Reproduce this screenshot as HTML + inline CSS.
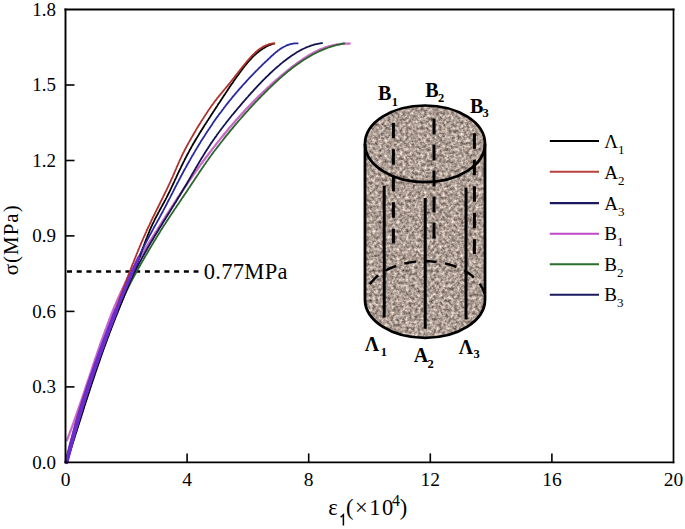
<!DOCTYPE html>
<html><head><meta charset="utf-8"><style>
html,body{margin:0;padding:0;background:#fff;}
svg{display:block;font-family:"Liberation Serif",serif;}
</style></head><body>
<svg width="685" height="529" viewBox="0 0 685 529">
<rect width="685" height="529" fill="#fff"/>
<g stroke="#000" stroke-width="1.6"><line x1="187.1" y1="462.4" x2="187.1" y2="453.4"/><line x1="308.7" y1="462.4" x2="308.7" y2="453.4"/><line x1="430.3" y1="462.4" x2="430.3" y2="453.4"/><line x1="551.9" y1="462.4" x2="551.9" y2="453.4"/><line x1="65.5" y1="386.9" x2="74.5" y2="386.9"/><line x1="65.5" y1="311.4" x2="74.5" y2="311.4"/><line x1="65.5" y1="235.9" x2="74.5" y2="235.9"/><line x1="65.5" y1="160.5" x2="74.5" y2="160.5"/><line x1="65.5" y1="85.0" x2="74.5" y2="85.0"/></g>

<defs>
<filter id="granite" x="0" y="0" width="1" height="1" color-interpolation-filters="sRGB">
<feTurbulence type="fractalNoise" baseFrequency="0.33" numOctaves="3" seed="7" result="n"/>
<feColorMatrix in="n" type="matrix" values="0.9 0 0 0 0.23000000000000004  0.9 0 0 0 0.16999999999999998  0.85 0 0 0 0.15999999999999998  0 0 0 0 1" result="c"/>
<feGaussianBlur in="c" stdDeviation="0.45" result="cb"/>
<feComposite in="cb" in2="SourceGraphic" operator="in"/>
</filter>
</defs>
<path d="M365,143.8 L365,299.5 A60,38.3 0 0 0 485,299.5 L485,143.8 A60,38.3 0 0 0 365,143.8 Z" fill="#aa9a92"/>
<path d="M365,143.8 L365,299.5 A60,38.3 0 0 0 485,299.5 L485,143.8 A60,38.3 0 0 0 365,143.8 Z" fill="#a89b90" filter="url(#granite)"/>
<ellipse cx="425" cy="143.8" rx="60" ry="38.3" fill="none" stroke="#000" stroke-width="2.7"/>
<path d="M365,143.8 L365,299.5 A60,38.3 0 0 0 485,299.5 L485,143.8" fill="none" stroke="#000" stroke-width="2.8"/>
<path d="M369.97,284.23 L370.75,283.14 L371.58,282.06 L372.47,281.00 L373.40,279.95 L374.39,278.93 L375.43,277.92 L376.51,276.94 L377.65,275.98 L378.83,275.04 L380.06,274.13 L381.33,273.24 L382.64,272.38 L384.00,271.54 L385.39,270.73 L386.83,269.95 L388.30,269.20 L389.81,268.48 L391.35,267.79 L392.93,267.13 L394.54,266.50 L396.18,265.91 L397.84,265.35 L399.54,264.82 L401.26,264.33 L403.00,263.87 L404.76,263.44 L406.55,263.06 L408.35,262.70 L410.17,262.39 L412.00,262.11 L413.85,261.87 L415.71,261.66 L417.57,261.49 L419.45,261.36 L421.33,261.27 L423.21,261.22 L425.09,261.20 L426.98,261.22 L428.86,261.28 L430.74,261.38 L432.61,261.51 L434.48,261.68 L436.34,261.89 L438.18,262.14 L440.01,262.42 L441.83,262.74 L443.63,263.09 L445.41,263.48 L447.18,263.91 L448.92,264.37 L450.63,264.87 L452.32,265.40 L453.99,265.97 L455.62,266.56 L457.23,267.19 L458.80,267.86 L460.34,268.55 L461.85,269.27 L463.32,270.03 L464.75,270.81 L466.14,271.62 L467.49,272.46 L468.80,273.33 L470.07,274.22 L471.29,275.13 L472.47,276.07 L473.60,277.04 L474.68,278.02 L475.71,279.03 L476.69,280.06 L477.62,281.10 L478.50,282.17 L479.33,283.25 L480.10,284.34 L480.82,285.46 L481.48,286.58 L482.09,287.72 L482.64,288.87 L483.14,290.03 L483.58,291.20 L483.95,292.38 L484.28,293.57" fill="none" stroke="#000" stroke-width="2.4" stroke-dasharray="12,8.5"/>
<g stroke="#000" stroke-width="3">
<line x1="384.2" y1="186" x2="384.2" y2="317.5"/>
<line x1="425.2" y1="198" x2="425.2" y2="328.7"/>
<line x1="466" y1="187.6" x2="466" y2="319.5"/>
</g>
<g stroke="#000" stroke-width="3">
<line x1="393.4" y1="122.8" x2="393.4" y2="243.3" stroke-dasharray="15.5,11"/>
<line x1="434" y1="118.4" x2="434" y2="239" stroke-dasharray="16,10"/>
<line x1="474.4" y1="133.2" x2="474.4" y2="254" stroke-dasharray="15.5,11"/>
</g>
<g font-weight="bold" font-size="20">
<text x="378" y="100.3">B</text><text x="391.8" y="105.5" font-size="12.5">1</text>
<text x="425.3" y="96.8">B</text><text x="438" y="101.8" font-size="12.5">2</text>
<text x="470" y="112.9">B</text><text x="482.4" y="117" font-size="12.5">3</text>
<text x="364.8" y="351.3">Λ</text><text x="380.8" y="355.5" font-size="12.5">1</text>
<text x="413.7" y="362.4">A</text><text x="427.5" y="367.8" font-size="12.5">2</text>
<text x="458.7" y="353.6">Λ</text><text x="473.4" y="357.8" font-size="12.5">3</text>
</g>

<line x1="67" y1="271.5" x2="198.5" y2="271.5" stroke="#000" stroke-width="2.3" stroke-dasharray="5,4.74"/>
<text x="203.8" y="278.6" font-size="22.5" letter-spacing="0.3">0.77MPa</text>
<path d="M350.6,43.7 L349.2,43.6 L347.8,43.6 L346.5,43.6 L345.2,43.7 L343.8,43.7 L342.5,43.8 L341.2,43.9 L339.9,44.1 L338.6,44.3 L337.4,44.4 L336.1,44.7 L334.8,44.9 L333.6,45.2 L332.4,45.4 L331.1,45.8 L329.9,46.1 L328.7,46.4 L327.5,46.8 L326.3,47.2 L325.1,47.6 L323.9,48.0 L322.7,48.5 L321.6,48.9 L320.4,49.4 L319.3,49.9 L318.1,50.4 L317.0,51.0 L315.9,51.5 L314.7,52.1 L313.6,52.7 L312.5,53.3 L311.4,53.9 L310.3,54.5 L309.2,55.1 L308.1,55.8 L307.0,56.4 L306.0,57.1 L304.9,57.8 L303.8,58.5 L302.8,59.2 L301.7,59.9 L300.7,60.6 L299.6,61.4 L298.6,62.1 L297.5,62.8 L296.5,63.6 L295.5,64.4 L294.5,65.1 L293.4,65.9 L292.4,66.7 L291.4,67.5 L290.4,68.3 L289.4,69.1 L288.4,69.9 L287.4,70.7 L286.4,71.5 L285.4,72.3 L284.4,73.1 L283.5,73.9 L282.5,74.7 L281.5,75.5 L280.5,76.4 L279.6,77.2 L278.6,78.0 L277.6,78.9 L276.7,79.7 L275.7,80.5 L274.7,81.4 L273.8,82.2 L272.8,83.1 L271.9,83.9 L270.9,84.8 L270.0,85.6 L269.1,86.5 L268.1,87.4 L267.2,88.2 L266.3,89.1 L265.3,90.0 L264.4,90.8 L263.5,91.7 L262.6,92.6 L261.6,93.5 L260.7,94.4 L259.8,95.2 L258.9,96.1 L258.0,97.0 L257.1,97.9 L256.2,98.8 L255.3,99.7 L254.4,100.6 L253.5,101.5 L252.6,102.4 L251.7,103.4 L250.8,104.3 L250.0,105.2 L249.1,106.1 L248.2,107.0 L247.3,107.9 L246.5,108.9 L245.6,109.8 L244.7,110.7 L243.9,111.7 L243.0,112.6 L242.1,113.5 L241.3,114.5 L240.4,115.4 L239.6,116.3 L238.7,117.3 L237.9,118.2 L237.0,119.2 L236.2,120.1 L235.3,121.1 L234.5,122.1 L233.7,123.0 L232.8,124.0 L232.0,124.9 L231.2,125.9 L230.4,126.9 L229.5,127.8 L228.7,128.8 L227.9,129.8 L227.1,130.8 L226.3,131.7 L225.4,132.7 L224.6,133.7 L223.8,134.7 L223.0,135.7 L222.2,136.6 L221.4,137.6 L220.6,138.6 L219.8,139.6 L219.0,140.6 L218.2,141.6 L217.4,142.6 L216.6,143.6 L215.8,144.6 L215.1,145.6 L214.3,146.6 L213.5,147.6 L212.7,148.6 L211.9,149.6 L211.2,150.6 L210.4,151.6 L209.6,152.6 L208.8,153.7 L208.1,154.7 L207.3,155.7 L206.5,156.7 L205.8,157.7 L205.0,158.8 L204.3,159.8 L203.5,160.8 L202.7,161.8 L202.0,162.9 L201.2,163.9 L200.5,164.9 L199.7,165.9 L199.0,167.0 L198.2,168.0 L197.5,169.1 L196.8,170.1 L196.0,171.1 L195.3,172.2 L194.5,173.2 L193.8,174.2 L193.1,175.3 L192.3,176.3 L191.6,177.4 L190.9,178.4 L190.1,179.5 L189.4,180.5 L188.7,181.6 L188.0,182.6 L187.3,183.7 L186.5,184.7 L185.8,185.8 L185.1,186.8 L184.4,187.9 L183.7,188.9 L183.0,190.0 L182.2,191.0 L181.5,192.1 L180.8,193.2 L180.1,194.2 L179.4,195.3 L178.7,196.3 L178.0,197.4 L177.3,198.5 L176.6,199.5 L175.9,200.6 L175.2,201.7 L174.5,202.7 L173.8,203.8 L173.1,204.9 L172.4,205.9 L171.7,207.0 L171.0,208.1 L170.3,209.1 L169.6,210.2 L169.0,211.3 L168.3,212.3 L167.6,213.4 L166.9,214.5 L166.2,215.5 L165.5,216.6 L164.8,217.7 L164.2,218.8 L163.5,219.8 L162.8,220.9 L162.1,222.0 L161.4,223.1 L160.7,224.1 L160.1,225.2 L159.4,226.3 L158.7,227.3 L158.0,228.4 L157.4,229.5 L156.7,230.6 L156.0,231.6 L155.3,232.7 L154.7,233.8 L154.0,234.9 L153.3,235.9 L152.6,237.0 L152.0,238.1 L151.3,239.1 L150.6,240.2 L149.9,241.3 L149.3,242.4 L148.6,243.4 L147.9,244.5 L147.2,245.6 L146.6,246.7 L145.9,247.7 L145.2,248.8 L144.6,249.9 L143.9,250.9 L143.2,252.0 L142.6,253.1 L141.9,254.1 L141.2,255.2 L140.5,256.3 L139.9,257.3 L139.2,258.4 L138.5,259.5 L137.9,260.6 L137.2,261.6 L136.6,262.7 L135.9,263.8 L135.2,264.9 L134.6,265.9 L134.0,267.0 L133.3,268.1 L132.7,269.2 L132.1,270.3 L131.4,271.4 L130.8,272.5 L130.2,273.6 L129.6,274.7 L129.0,275.8 L128.4,276.9 L127.8,278.0 L127.2,279.1 L126.7,280.2 L126.1,281.3 L125.5,282.5 L125.0,283.6 L124.4,284.7 L123.9,285.9 L123.3,287.0 L122.8,288.1 L122.2,289.3 L121.7,290.4 L121.2,291.6 L120.6,292.7 L120.1,293.9 L119.6,295.0 L119.1,296.2 L118.5,297.4 L118.0,298.5 L117.5,299.7 L117.0,300.8 L116.5,302.0 L116.0,303.2 L115.5,304.4 L115.0,305.5 L114.5,306.7 L114.0,307.9 L113.6,309.1 L113.1,310.2 L112.6,311.4 L112.1,312.6 L111.7,313.8 L111.2,315.0 L110.7,316.2 L110.3,317.4 L109.8,318.6 L109.3,319.7 L108.9,320.9 L108.4,322.1 L108.0,323.3 L107.5,324.5 L107.1,325.7 L106.6,326.9 L106.2,328.1 L105.7,329.3 L105.3,330.5 L104.8,331.7 L104.4,332.9 L104.0,334.1 L103.5,335.3 L103.1,336.5 L102.7,337.7 L102.2,338.9 L101.8,340.1 L101.4,341.3 L101.0,342.5 L100.5,343.7 L100.1,344.9 L99.7,346.1 L99.3,347.3 L98.9,348.5 L98.4,349.8 L98.0,351.0 L97.6,352.2 L97.2,353.4 L96.8,354.6 L96.4,355.8 L96.0,357.0 L95.5,358.2 L95.1,359.4 L94.7,360.6 L94.3,361.8 L93.9,363.0 L93.5,364.2 L93.1,365.4 L92.7,366.6 L92.3,367.8 L91.9,369.0 L91.5,370.3 L91.1,371.5 L90.7,372.7 L90.3,373.9 L89.9,375.1 L89.5,376.3 L89.1,377.5 L88.7,378.7 L88.2,379.9 L87.8,381.1 L87.4,382.3 L87.0,383.5 L86.6,384.7 L86.2,385.9 L85.8,387.2 L85.4,388.4 L85.0,389.6 L84.6,390.8 L84.2,392.0 L83.8,393.2 L83.4,394.4 L83.0,395.6 L82.6,396.8 L82.2,398.0 L81.8,399.2 L81.4,400.4 L80.9,401.6 L80.5,402.8 L80.1,404.0 L79.7,405.2 L79.3,406.4 L78.9,407.6 L78.5,408.8 L78.0,410.0 L77.6,411.2 L77.2,412.4 L76.8,413.6 L76.4,414.8 L75.9,416.0 L75.5,417.2 L75.1,418.4 L74.6,419.6 L74.2,420.8 L73.8,422.0 L73.4,423.2 L72.9,424.4 L72.5,425.6 L72.0,426.8 L71.6,428.0 L71.2,429.2 L70.7,430.4 L70.3,431.6 L69.8,432.7 L69.4,433.9 L68.9,435.1 L68.5,436.3 L68.0,437.5 L67.5,438.7 L67.1,439.9 L66.6,441.1" stroke="#c868c8" stroke-width="2.3" fill="none" stroke-linejoin="round"/>
<path d="M344.9,43.3 L343.6,43.5 L342.3,43.8 L341.0,44.0 L339.8,44.3 L338.5,44.6 L337.2,44.9 L336.0,45.2 L334.7,45.6 L333.5,45.9 L332.2,46.3 L331.0,46.7 L329.8,47.1 L328.5,47.5 L327.3,48.0 L326.1,48.4 L324.9,48.9 L323.7,49.4 L322.5,49.9 L321.4,50.4 L320.2,50.9 L319.0,51.4 L317.8,52.0 L316.7,52.5 L315.5,53.1 L314.4,53.7 L313.2,54.3 L312.1,54.9 L311.0,55.6 L309.8,56.2 L308.7,56.9 L307.6,57.5 L306.5,58.2 L305.4,58.9 L304.3,59.6 L303.2,60.3 L302.1,61.0 L301.0,61.7 L300.0,62.4 L298.9,63.2 L297.8,63.9 L296.8,64.7 L295.7,65.5 L294.6,66.3 L293.6,67.0 L292.6,67.8 L291.5,68.6 L290.5,69.5 L289.5,70.3 L288.4,71.1 L287.4,71.9 L286.4,72.8 L285.4,73.6 L284.4,74.5 L283.4,75.3 L282.4,76.2 L281.4,77.1 L280.4,77.9 L279.4,78.8 L278.4,79.7 L277.5,80.6 L276.5,81.5 L275.5,82.4 L274.5,83.3 L273.6,84.2 L272.6,85.1 L271.7,86.0 L270.7,86.9 L269.8,87.8 L268.8,88.7 L267.9,89.6 L267.0,90.6 L266.0,91.5 L265.1,92.4 L264.2,93.3 L263.3,94.3 L262.3,95.2 L261.4,96.1 L260.5,97.1 L259.6,98.0 L258.7,98.9 L257.8,99.9 L256.9,100.8 L256.0,101.7 L255.1,102.7 L254.2,103.6 L253.3,104.6 L252.4,105.5 L251.6,106.5 L250.7,107.4 L249.8,108.4 L248.9,109.3 L248.1,110.3 L247.2,111.3 L246.3,112.2 L245.5,113.2 L244.6,114.2 L243.7,115.1 L242.9,116.1 L242.0,117.1 L241.2,118.0 L240.3,119.0 L239.5,120.0 L238.6,121.0 L237.8,121.9 L237.0,122.9 L236.1,123.9 L235.3,124.9 L234.5,125.9 L233.6,126.9 L232.8,127.9 L232.0,128.9 L231.1,129.9 L230.3,130.9 L229.5,131.9 L228.7,132.9 L227.9,133.9 L227.0,134.9 L226.2,135.9 L225.4,136.9 L224.6,137.9 L223.8,138.9 L223.0,140.0 L222.2,141.0 L221.4,142.0 L220.6,143.0 L219.8,144.0 L219.0,145.1 L218.2,146.1 L217.4,147.1 L216.6,148.2 L215.8,149.2 L215.0,150.2 L214.2,151.3 L213.4,152.3 L212.7,153.4 L211.9,154.4 L211.1,155.5 L210.3,156.5 L209.6,157.6 L208.8,158.6 L208.1,159.7 L207.3,160.8 L206.5,161.8 L205.8,162.9 L205.1,164.0 L204.3,165.0 L203.6,166.1 L202.8,167.2 L202.1,168.3 L201.4,169.3 L200.7,170.4 L199.9,171.5 L199.2,172.6 L198.5,173.7 L197.8,174.7 L197.1,175.8 L196.3,176.9 L195.6,178.0 L194.9,179.1 L194.2,180.2 L193.5,181.3 L192.8,182.3 L192.0,183.4 L191.3,184.5 L190.6,185.6 L189.9,186.7 L189.2,187.8 L188.4,188.8 L187.7,189.9 L187.0,191.0 L186.3,192.1 L185.5,193.2 L184.8,194.2 L184.1,195.3 L183.4,196.4 L182.6,197.5 L181.9,198.5 L181.2,199.6 L180.4,200.7 L179.7,201.8 L179.0,202.9 L178.3,203.9 L177.5,205.0 L176.8,206.1 L176.1,207.2 L175.4,208.3 L174.6,209.3 L173.9,210.4 L173.2,211.5 L172.5,212.6 L171.7,213.7 L171.0,214.7 L170.3,215.8 L169.6,216.9 L168.9,218.0 L168.2,219.1 L167.4,220.2 L166.7,221.3 L166.0,222.4 L165.3,223.5 L164.6,224.5 L163.9,225.6 L163.2,226.7 L162.5,227.8 L161.8,228.9 L161.1,230.0 L160.4,231.1 L159.8,232.2 L159.1,233.3 L158.4,234.5 L157.7,235.6 L157.0,236.7 L156.3,237.8 L155.7,238.9 L155.0,240.0 L154.3,241.1 L153.6,242.2 L153.0,243.3 L152.3,244.5 L151.6,245.6 L151.0,246.7 L150.3,247.8 L149.6,248.9 L149.0,250.0 L148.3,251.2 L147.7,252.3 L147.0,253.4 L146.3,254.5 L145.7,255.6 L145.0,256.8 L144.4,257.9 L143.7,259.0 L143.1,260.1 L142.4,261.3 L141.8,262.4 L141.1,263.5 L140.5,264.6 L139.9,265.8 L139.2,266.9 L138.6,268.0 L138.0,269.1 L137.3,270.3 L136.7,271.4 L136.1,272.6 L135.5,273.7 L134.8,274.8 L134.2,276.0 L133.6,277.1 L133.0,278.3 L132.4,279.4 L131.8,280.6 L131.2,281.7 L130.6,282.9 L130.0,284.0 L129.4,285.2 L128.8,286.3 L128.3,287.5 L127.7,288.7 L127.1,289.8 L126.6,291.0 L126.0,292.2 L125.4,293.3 L124.9,294.5 L124.3,295.7 L123.8,296.9 L123.3,298.1 L122.7,299.3 L122.2,300.4 L121.7,301.6 L121.1,302.8 L120.6,304.0 L120.1,305.2 L119.6,306.4 L119.1,307.6 L118.6,308.8 L118.1,310.0 L117.6,311.2 L117.1,312.5 L116.6,313.7 L116.1,314.9 L115.6,316.1 L115.1,317.3 L114.6,318.5 L114.1,319.7 L113.6,320.9 L113.2,322.2 L112.7,323.4 L112.2,324.6 L111.7,325.8 L111.3,327.0 L110.8,328.3 L110.3,329.5 L109.9,330.7 L109.4,331.9 L108.9,333.1 L108.5,334.4 L108.0,335.6 L107.6,336.8 L107.1,338.0 L106.7,339.3 L106.2,340.5 L105.8,341.7 L105.3,343.0 L104.9,344.2 L104.4,345.4 L104.0,346.6 L103.5,347.9 L103.1,349.1 L102.7,350.3 L102.2,351.5 L101.8,352.8 L101.3,354.0 L100.9,355.2 L100.5,356.5 L100.0,357.7 L99.6,358.9 L99.2,360.2 L98.8,361.4 L98.3,362.6 L97.9,363.9 L97.5,365.1 L97.0,366.3 L96.6,367.6 L96.2,368.8 L95.8,370.0 L95.4,371.3 L94.9,372.5 L94.5,373.7 L94.1,375.0 L93.7,376.2 L93.3,377.4 L92.9,378.7 L92.5,379.9 L92.1,381.2 L91.6,382.4 L91.2,383.6 L90.8,384.9 L90.4,386.1 L90.0,387.4 L89.6,388.6 L89.2,389.8 L88.8,391.1 L88.4,392.3 L88.0,393.6 L87.6,394.8 L87.2,396.0 L86.8,397.3 L86.4,398.5 L86.0,399.8 L85.6,401.0 L85.2,402.2 L84.8,403.5 L84.4,404.7 L84.0,406.0 L83.6,407.2 L83.2,408.5 L82.8,409.7 L82.5,410.9 L82.1,412.2 L81.7,413.4 L81.3,414.7 L80.9,415.9 L80.5,417.2 L80.1,418.4 L79.7,419.7 L79.3,420.9 L78.9,422.1 L78.6,423.4 L78.2,424.6 L77.8,425.9 L77.4,427.1 L77.0,428.4 L76.6,429.6 L76.3,430.9 L75.9,432.1 L75.5,433.4 L75.1,434.6 L74.7,435.9 L74.3,437.1 L74.0,438.4 L73.6,439.6 L73.2,440.8 L72.8,442.1 L72.4,443.3 L72.0,444.6 L71.7,445.8 L71.3,447.1 L70.9,448.3 L70.5,449.6 L70.1,450.8 L69.8,452.1 L69.4,453.3 L69.0,454.6 L68.6,455.8 L68.2,457.1 L67.8,458.3 L67.5,459.6 L67.1,460.8 L66.7,462.1" stroke="#2a682a" stroke-width="1.8" fill="none" stroke-linejoin="round"/>
<path d="M274.9,43.3 L273.7,43.7 L272.5,44.0 L271.4,44.4 L270.3,44.8 L269.2,45.3 L268.1,45.8 L267.0,46.3 L266.0,46.8 L265.0,47.4 L264.0,48.0 L263.0,48.6 L262.0,49.2 L261.0,49.9 L260.1,50.6 L259.1,51.3 L258.2,52.0 L257.3,52.7 L256.4,53.5 L255.5,54.3 L254.6,55.1 L253.8,55.9 L252.9,56.7 L252.1,57.6 L251.3,58.5 L250.5,59.3 L249.7,60.2 L248.9,61.1 L248.1,62.0 L247.3,62.9 L246.5,63.9 L245.8,64.8 L245.0,65.7 L244.3,66.7 L243.5,67.6 L242.8,68.6 L242.0,69.6 L241.3,70.5 L240.6,71.5 L239.9,72.5 L239.2,73.4 L238.5,74.4 L237.8,75.4 L237.1,76.3 L236.4,77.3 L235.7,78.3 L235.0,79.2 L234.3,80.2 L233.6,81.2 L233.0,82.2 L232.3,83.2 L231.6,84.1 L231.0,85.1 L230.3,86.1 L229.6,87.1 L229.0,88.0 L228.3,89.0 L227.7,90.0 L227.0,91.0 L226.4,91.9 L225.7,92.9 L225.1,93.9 L224.4,94.9 L223.8,95.8 L223.2,96.8 L222.5,97.8 L221.9,98.8 L221.2,99.7 L220.6,100.7 L220.0,101.7 L219.3,102.7 L218.7,103.6 L218.0,104.6 L217.4,105.6 L216.8,106.6 L216.1,107.6 L215.5,108.5 L214.8,109.5 L214.2,110.5 L213.5,111.5 L212.9,112.5 L212.2,113.5 L211.6,114.5 L210.9,115.5 L210.3,116.5 L209.7,117.4 L209.0,118.4 L208.4,119.4 L207.7,120.4 L207.1,121.4 L206.4,122.4 L205.8,123.4 L205.1,124.4 L204.5,125.4 L203.9,126.5 L203.2,127.5 L202.6,128.5 L202.0,129.5 L201.3,130.5 L200.7,131.5 L200.1,132.5 L199.4,133.5 L198.8,134.6 L198.2,135.6 L197.6,136.6 L197.0,137.6 L196.4,138.6 L195.7,139.7 L195.1,140.7 L194.5,141.7 L193.9,142.8 L193.3,143.8 L192.7,144.8 L192.1,145.9 L191.5,146.9 L191.0,148.0 L190.4,149.0 L189.8,150.0 L189.2,151.1 L188.7,152.1 L188.1,153.2 L187.5,154.2 L187.0,155.3 L186.4,156.4 L185.9,157.4 L185.3,158.5 L184.8,159.5 L184.3,160.6 L183.7,161.7 L183.2,162.7 L182.7,163.8 L182.1,164.9 L181.6,165.9 L181.1,167.0 L180.6,168.1 L180.1,169.1 L179.6,170.2 L179.0,171.3 L178.5,172.4 L178.0,173.4 L177.5,174.5 L177.0,175.6 L176.5,176.7 L176.0,177.8 L175.5,178.8 L175.0,179.9 L174.5,181.0 L174.0,182.1 L173.5,183.1 L173.0,184.2 L172.5,185.3 L172.0,186.4 L171.5,187.4 L171.0,188.5 L170.5,189.6 L170.0,190.7 L169.5,191.7 L169.0,192.8 L168.4,193.8 L167.9,194.9 L167.4,196.0 L166.8,197.0 L166.3,198.1 L165.7,199.1 L165.2,200.1 L164.6,201.2 L164.1,202.2 L163.5,203.3 L162.9,204.3 L162.4,205.3 L161.8,206.4 L161.2,207.4 L160.7,208.5 L160.1,209.5 L159.5,210.5 L159.0,211.6 L158.4,212.6 L157.9,213.7 L157.3,214.7 L156.8,215.7 L156.2,216.8 L155.7,217.8 L155.1,218.9 L154.6,219.9 L154.1,221.0 L153.6,222.1 L153.0,223.1 L152.5,224.2 L152.0,225.3 L151.5,226.3 L151.1,227.4 L150.6,228.5 L150.1,229.6 L149.6,230.7 L149.2,231.8 L148.7,232.9 L148.3,234.0 L147.8,235.1 L147.4,236.2 L147.0,237.3 L146.5,238.4 L146.1,239.5 L145.7,240.6 L145.3,241.7 L144.8,242.8 L144.4,244.0 L144.0,245.1 L143.6,246.2 L143.2,247.3 L142.8,248.4 L142.3,249.6 L141.9,250.7 L141.5,251.8 L141.1,252.9 L140.7,254.0 L140.3,255.2 L139.9,256.3 L139.4,257.4 L139.0,258.5 L138.6,259.6 L138.2,260.8 L137.8,261.9 L137.3,263.0 L136.9,264.1 L136.5,265.2 L136.0,266.3 L135.6,267.4 L135.2,268.6 L134.7,269.7 L134.3,270.8 L133.9,271.9 L133.4,273.0 L133.0,274.1 L132.6,275.2 L132.1,276.3 L131.7,277.4 L131.2,278.6 L130.8,279.7 L130.3,280.8 L129.9,281.9 L129.5,283.0 L129.0,284.1 L128.6,285.2 L128.1,286.3 L127.7,287.4 L127.2,288.5 L126.8,289.6 L126.3,290.7 L125.9,291.9 L125.4,293.0 L125.0,294.1 L124.5,295.2 L124.1,296.3 L123.7,297.4 L123.2,298.5 L122.8,299.6 L122.3,300.7 L121.9,301.8 L121.4,302.9 L121.0,304.0 L120.5,305.1 L120.1,306.2 L119.6,307.4 L119.2,308.5 L118.7,309.6 L118.3,310.7 L117.9,311.8 L117.4,312.9 L117.0,314.0 L116.5,315.1 L116.1,316.2 L115.6,317.3 L115.2,318.4 L114.8,319.6 L114.3,320.7 L113.9,321.8 L113.5,322.9 L113.0,324.0 L112.6,325.1 L112.2,326.2 L111.7,327.3 L111.3,328.5 L110.9,329.6 L110.5,330.7 L110.0,331.8 L109.6,332.9 L109.2,334.0 L108.8,335.2 L108.4,336.3 L107.9,337.4 L107.5,338.5 L107.1,339.6 L106.7,340.8 L106.3,341.9 L105.9,343.0 L105.5,344.1 L105.1,345.2 L104.6,346.4 L104.2,347.5 L103.8,348.6 L103.4,349.7 L103.0,350.9 L102.6,352.0 L102.2,353.1 L101.8,354.2 L101.4,355.4 L101.0,356.5 L100.6,357.6 L100.3,358.7 L99.9,359.9 L99.5,361.0 L99.1,362.1 L98.7,363.2 L98.3,364.4 L97.9,365.5 L97.5,366.6 L97.1,367.8 L96.7,368.9 L96.4,370.0 L96.0,371.2 L95.6,372.3 L95.2,373.4 L94.8,374.5 L94.5,375.7 L94.1,376.8 L93.7,377.9 L93.3,379.1 L92.9,380.2 L92.6,381.3 L92.2,382.5 L91.8,383.6 L91.4,384.7 L91.1,385.9 L90.7,387.0 L90.3,388.1 L90.0,389.3 L89.6,390.4 L89.2,391.6 L88.8,392.7 L88.5,393.8 L88.1,395.0 L87.7,396.1 L87.4,397.2 L87.0,398.4 L86.6,399.5 L86.3,400.6 L85.9,401.8 L85.5,402.9 L85.2,404.1 L84.8,405.2 L84.4,406.3 L84.1,407.5 L83.7,408.6 L83.4,409.7 L83.0,410.9 L82.6,412.0 L82.3,413.2 L81.9,414.3 L81.6,415.4 L81.2,416.6 L80.8,417.7 L80.5,418.9 L80.1,420.0 L79.8,421.1 L79.4,422.3 L79.0,423.4 L78.7,424.5 L78.3,425.7 L78.0,426.8 L77.6,428.0 L77.2,429.1 L76.9,430.2 L76.5,431.4 L76.2,432.5 L75.8,433.7 L75.4,434.8 L75.1,435.9 L74.7,437.1 L74.4,438.2 L74.0,439.3 L73.7,440.5 L73.3,441.6 L72.9,442.8 L72.6,443.9 L72.2,445.0 L71.9,446.2 L71.5,447.3 L71.1,448.5 L70.8,449.6 L70.4,450.7 L70.1,451.9 L69.7,453.0 L69.3,454.1 L69.0,455.3 L68.6,456.4 L68.3,457.5 L67.9,458.7 L67.5,459.8 L67.2,461.0 L66.8,462.1" stroke="#000000" stroke-width="1.8" fill="none" stroke-linejoin="round"/>
<path d="M275.2,43.3 L274.0,43.3 L272.7,43.5 L271.5,43.7 L270.4,43.9 L269.2,44.2 L268.1,44.6 L267.0,45.0 L265.9,45.4 L264.9,45.9 L263.8,46.4 L262.8,46.9 L261.8,47.5 L260.8,48.2 L259.9,48.8 L258.9,49.5 L258.0,50.2 L257.1,51.0 L256.2,51.7 L255.3,52.5 L254.5,53.3 L253.6,54.1 L252.8,55.0 L251.9,55.9 L251.1,56.7 L250.3,57.6 L249.5,58.5 L248.7,59.4 L247.9,60.3 L247.1,61.2 L246.3,62.2 L245.6,63.1 L244.8,64.0 L244.0,65.0 L243.3,65.9 L242.5,66.9 L241.7,67.8 L241.0,68.8 L240.2,69.7 L239.5,70.7 L238.8,71.6 L238.0,72.6 L237.3,73.5 L236.5,74.5 L235.8,75.4 L235.0,76.4 L234.3,77.4 L233.6,78.3 L232.8,79.3 L232.1,80.2 L231.3,81.1 L230.6,82.1 L229.8,83.0 L229.1,83.9 L228.3,84.9 L227.6,85.8 L226.8,86.7 L226.0,87.6 L225.3,88.5 L224.5,89.4 L223.8,90.3 L223.0,91.2 L222.2,92.2 L221.5,93.1 L220.7,94.0 L220.0,94.9 L219.2,95.8 L218.5,96.7 L217.8,97.6 L217.0,98.5 L216.3,99.5 L215.6,100.4 L214.9,101.3 L214.2,102.3 L213.5,103.2 L212.8,104.2 L212.1,105.1 L211.4,106.1 L210.7,107.1 L210.0,108.0 L209.4,109.0 L208.7,110.0 L208.0,110.9 L207.4,111.9 L206.7,112.9 L206.1,113.9 L205.4,114.9 L204.8,115.9 L204.1,116.9 L203.5,117.9 L202.8,118.9 L202.2,119.9 L201.5,120.9 L200.9,121.9 L200.3,123.0 L199.6,124.0 L199.0,125.0 L198.4,126.0 L197.8,127.0 L197.1,128.1 L196.5,129.1 L195.9,130.1 L195.3,131.2 L194.7,132.2 L194.1,133.2 L193.5,134.3 L192.9,135.3 L192.3,136.4 L191.7,137.4 L191.1,138.4 L190.5,139.5 L189.9,140.5 L189.3,141.6 L188.7,142.6 L188.1,143.6 L187.6,144.7 L187.0,145.7 L186.4,146.8 L185.9,147.8 L185.3,148.9 L184.8,150.0 L184.2,151.0 L183.7,152.1 L183.1,153.1 L182.6,154.2 L182.1,155.3 L181.6,156.4 L181.1,157.4 L180.6,158.5 L180.1,159.6 L179.6,160.7 L179.1,161.8 L178.6,162.8 L178.2,163.9 L177.7,165.0 L177.2,166.1 L176.7,167.2 L176.3,168.3 L175.8,169.4 L175.3,170.5 L174.9,171.6 L174.4,172.7 L173.9,173.8 L173.4,174.9 L173.0,176.0 L172.5,177.1 L172.0,178.1 L171.5,179.2 L171.0,180.3 L170.5,181.4 L170.0,182.5 L169.5,183.6 L169.0,184.7 L168.5,185.7 L168.0,186.8 L167.5,187.9 L167.0,189.0 L166.4,190.1 L165.9,191.1 L165.4,192.2 L164.9,193.3 L164.3,194.4 L163.8,195.4 L163.3,196.5 L162.8,197.6 L162.2,198.7 L161.7,199.7 L161.2,200.8 L160.6,201.9 L160.1,203.0 L159.6,204.0 L159.0,205.1 L158.5,206.2 L158.0,207.3 L157.4,208.3 L156.9,209.4 L156.4,210.5 L155.8,211.6 L155.3,212.6 L154.8,213.7 L154.3,214.8 L153.7,215.9 L153.2,216.9 L152.7,218.0 L152.1,219.1 L151.6,220.2 L151.1,221.3 L150.6,222.3 L150.1,223.4 L149.6,224.5 L149.1,225.6 L148.5,226.7 L148.0,227.8 L147.5,228.9 L147.0,230.0 L146.5,231.0 L146.1,232.1 L145.6,233.2 L145.1,234.3 L144.6,235.4 L144.1,236.5 L143.6,237.6 L143.1,238.7 L142.7,239.8 L142.2,240.9 L141.7,242.0 L141.2,243.1 L140.8,244.2 L140.3,245.3 L139.8,246.4 L139.4,247.5 L138.9,248.6 L138.5,249.7 L138.0,250.9 L137.5,252.0 L137.1,253.1 L136.6,254.2 L136.2,255.3 L135.7,256.4 L135.3,257.5 L134.8,258.6 L134.4,259.7 L134.0,260.9 L133.5,262.0 L133.1,263.1 L132.6,264.2 L132.2,265.3 L131.8,266.4 L131.3,267.6 L130.9,268.7 L130.5,269.8 L130.0,270.9 L129.6,272.0 L129.2,273.2 L128.7,274.3 L128.3,275.4 L127.9,276.5 L127.4,277.6 L127.0,278.8 L126.6,279.9 L126.2,281.0 L125.7,282.1 L125.3,283.3 L124.9,284.4 L124.5,285.5 L124.0,286.6 L123.6,287.8 L123.2,288.9 L122.8,290.0 L122.4,291.1 L121.9,292.2 L121.5,293.4 L121.1,294.5 L120.7,295.6 L120.3,296.7 L119.8,297.9 L119.4,299.0 L119.0,300.1 L118.6,301.3 L118.2,302.4 L117.7,303.5 L117.3,304.6 L116.9,305.8 L116.5,306.9 L116.1,308.0 L115.6,309.1 L115.2,310.2 L114.8,311.4 L114.4,312.5 L113.9,313.6 L113.5,314.7 L113.1,315.9 L112.7,317.0 L112.2,318.1 L111.8,319.2 L111.4,320.4 L111.0,321.5 L110.5,322.6 L110.1,323.7 L109.7,324.9 L109.3,326.0 L108.8,327.1 L108.4,328.2 L108.0,329.3 L107.6,330.5 L107.1,331.6 L106.7,332.7 L106.3,333.8 L105.9,335.0 L105.4,336.1 L105.0,337.2 L104.6,338.3 L104.2,339.4 L103.7,340.6 L103.3,341.7 L102.9,342.8 L102.5,343.9 L102.0,345.1 L101.6,346.2 L101.2,347.3 L100.8,348.4 L100.3,349.6 L99.9,350.7 L99.5,351.8 L99.1,352.9 L98.7,354.1 L98.2,355.2 L97.8,356.3 L97.4,357.4 L97.0,358.6 L96.6,359.7 L96.2,360.8 L95.8,361.9 L95.3,363.1 L94.9,364.2 L94.5,365.3 L94.1,366.4 L93.7,367.6 L93.3,368.7 L92.9,369.8 L92.5,371.0 L92.1,372.1 L91.7,373.2 L91.3,374.3 L90.9,375.5 L90.5,376.6 L90.1,377.7 L89.7,378.9 L89.3,380.0 L88.9,381.1 L88.5,382.3 L88.1,383.4 L87.7,384.5 L87.3,385.7 L86.9,386.8 L86.6,387.9 L86.2,389.1 L85.8,390.2 L85.4,391.3 L85.0,392.5 L84.7,393.6 L84.3,394.8 L83.9,395.9 L83.5,397.0 L83.2,398.2 L82.8,399.3 L82.4,400.5 L82.1,401.6 L81.7,402.7 L81.4,403.9 L81.0,405.0 L80.6,406.2 L80.3,407.3 L79.9,408.5 L79.6,409.6 L79.2,410.8 L78.9,411.9 L78.5,413.1 L78.2,414.2 L77.9,415.4 L77.5,416.5 L77.2,417.7 L76.9,418.8 L76.5,420.0 L76.2,421.1 L75.9,422.3 L75.6,423.4 L75.2,424.6 L74.9,425.7 L74.6,426.9 L74.3,428.1 L74.0,429.2 L73.7,430.4 L73.4,431.5 L73.1,432.7 L72.8,433.9 L72.5,435.0 L72.2,436.2 L71.9,437.3 L71.6,438.5 L71.3,439.7 L71.0,440.9 L70.7,442.0 L70.5,443.2 L70.2,444.4 L69.9,445.5 L69.7,446.7 L69.4,447.9 L69.1,449.1 L68.9,450.2 L68.6,451.4 L68.4,452.6 L68.1,453.8 L67.9,454.9 L67.6,456.1 L67.4,457.3 L67.2,458.5 L66.9,459.7 L66.7,460.9 L66.5,462.0" stroke="#b0302c" stroke-width="1.8" fill="none" stroke-linejoin="round"/>
<path d="M322.8,43.1 L321.5,43.2 L320.2,43.4 L318.9,43.6 L317.7,43.8 L316.4,44.1 L315.2,44.4 L314.0,44.7 L312.8,45.1 L311.6,45.4 L310.4,45.8 L309.2,46.3 L308.0,46.7 L306.9,47.2 L305.7,47.7 L304.6,48.2 L303.5,48.7 L302.3,49.3 L301.2,49.9 L300.1,50.4 L299.0,51.1 L297.9,51.7 L296.8,52.3 L295.8,53.0 L294.7,53.7 L293.6,54.4 L292.6,55.1 L291.5,55.8 L290.5,56.5 L289.5,57.2 L288.4,58.0 L287.4,58.7 L286.4,59.5 L285.4,60.3 L284.4,61.1 L283.4,61.8 L282.4,62.6 L281.4,63.4 L280.4,64.2 L279.5,65.1 L278.5,65.9 L277.5,66.7 L276.6,67.5 L275.6,68.4 L274.7,69.2 L273.7,70.1 L272.8,70.9 L271.9,71.8 L270.9,72.6 L270.0,73.5 L269.1,74.4 L268.2,75.3 L267.3,76.2 L266.4,77.0 L265.5,77.9 L264.6,78.8 L263.7,79.7 L262.8,80.6 L261.9,81.5 L261.0,82.5 L260.1,83.4 L259.2,84.3 L258.4,85.2 L257.5,86.1 L256.6,87.1 L255.8,88.0 L254.9,88.9 L254.0,89.9 L253.2,90.8 L252.3,91.8 L251.5,92.7 L250.6,93.7 L249.8,94.6 L248.9,95.5 L248.1,96.5 L247.2,97.5 L246.4,98.4 L245.6,99.4 L244.7,100.3 L243.9,101.3 L243.1,102.2 L242.2,103.2 L241.4,104.2 L240.6,105.1 L239.8,106.1 L238.9,107.1 L238.1,108.0 L237.3,109.0 L236.5,110.0 L235.7,110.9 L234.9,111.9 L234.1,112.9 L233.3,113.9 L232.4,114.8 L231.6,115.8 L230.9,116.8 L230.1,117.8 L229.3,118.8 L228.5,119.8 L227.7,120.8 L226.9,121.7 L226.1,122.7 L225.4,123.7 L224.6,124.7 L223.8,125.7 L223.0,126.7 L222.3,127.7 L221.5,128.7 L220.8,129.8 L220.0,130.8 L219.3,131.8 L218.5,132.8 L217.8,133.8 L217.0,134.8 L216.3,135.9 L215.6,136.9 L214.8,137.9 L214.1,139.0 L213.4,140.0 L212.7,141.0 L212.0,142.1 L211.2,143.1 L210.5,144.2 L209.8,145.2 L209.2,146.3 L208.5,147.3 L207.8,148.4 L207.1,149.4 L206.4,150.5 L205.7,151.6 L205.1,152.6 L204.4,153.7 L203.7,154.8 L203.1,155.9 L202.4,156.9 L201.7,158.0 L201.1,159.1 L200.4,160.2 L199.8,161.3 L199.1,162.4 L198.5,163.5 L197.8,164.5 L197.2,165.6 L196.6,166.7 L195.9,167.8 L195.3,168.9 L194.6,170.0 L194.0,171.1 L193.4,172.2 L192.7,173.3 L192.1,174.4 L191.5,175.5 L190.8,176.6 L190.2,177.7 L189.6,178.8 L188.9,179.9 L188.3,181.0 L187.7,182.1 L187.0,183.2 L186.4,184.3 L185.7,185.4 L185.1,186.5 L184.5,187.6 L183.8,188.6 L183.2,189.7 L182.5,190.8 L181.9,191.9 L181.2,193.0 L180.6,194.1 L179.9,195.2 L179.3,196.3 L178.6,197.3 L177.9,198.4 L177.3,199.5 L176.6,200.6 L176.0,201.7 L175.3,202.8 L174.6,203.8 L174.0,204.9 L173.3,206.0 L172.6,207.1 L172.0,208.1 L171.3,209.2 L170.6,210.3 L170.0,211.4 L169.3,212.4 L168.6,213.5 L168.0,214.6 L167.3,215.7 L166.6,216.7 L166.0,217.8 L165.3,218.9 L164.6,220.0 L164.0,221.1 L163.3,222.1 L162.6,223.2 L162.0,224.3 L161.3,225.4 L160.6,226.4 L160.0,227.5 L159.3,228.6 L158.6,229.7 L158.0,230.7 L157.3,231.8 L156.7,232.9 L156.0,234.0 L155.3,235.1 L154.7,236.1 L154.0,237.2 L153.4,238.3 L152.7,239.4 L152.1,240.5 L151.4,241.6 L150.8,242.6 L150.2,243.7 L149.5,244.8 L148.9,245.9 L148.2,247.0 L147.6,248.1 L147.0,249.2 L146.4,250.3 L145.7,251.4 L145.1,252.5 L144.5,253.6 L143.9,254.7 L143.3,255.8 L142.6,256.9 L142.0,258.0 L141.4,259.1 L140.8,260.2 L140.2,261.3 L139.6,262.4 L139.0,263.5 L138.4,264.7 L137.8,265.8 L137.3,266.9 L136.7,268.0 L136.1,269.1 L135.5,270.3 L134.9,271.4 L134.4,272.5 L133.8,273.6 L133.2,274.8 L132.7,275.9 L132.1,277.0 L131.5,278.2 L131.0,279.3 L130.4,280.4 L129.9,281.6 L129.3,282.7 L128.8,283.8 L128.2,285.0 L127.7,286.1 L127.1,287.3 L126.6,288.4 L126.1,289.5 L125.5,290.7 L125.0,291.8 L124.5,293.0 L123.9,294.1 L123.4,295.3 L122.9,296.4 L122.4,297.6 L121.9,298.7 L121.4,299.9 L120.8,301.1 L120.3,302.2 L119.8,303.4 L119.3,304.5 L118.8,305.7 L118.3,306.9 L117.8,308.0 L117.3,309.2 L116.8,310.3 L116.3,311.5 L115.8,312.7 L115.3,313.8 L114.9,315.0 L114.4,316.2 L113.9,317.4 L113.4,318.5 L112.9,319.7 L112.5,320.9 L112.0,322.0 L111.5,323.2 L111.0,324.4 L110.6,325.6 L110.1,326.8 L109.6,327.9 L109.2,329.1 L108.7,330.3 L108.3,331.5 L107.8,332.7 L107.3,333.8 L106.9,335.0 L106.4,336.2 L106.0,337.4 L105.5,338.6 L105.1,339.8 L104.6,341.0 L104.2,342.1 L103.8,343.3 L103.3,344.5 L102.9,345.7 L102.4,346.9 L102.0,348.1 L101.6,349.3 L101.1,350.5 L100.7,351.7 L100.3,352.9 L99.9,354.1 L99.4,355.3 L99.0,356.5 L98.6,357.7 L98.2,358.9 L97.7,360.1 L97.3,361.3 L96.9,362.5 L96.5,363.7 L96.1,364.9 L95.7,366.1 L95.3,367.3 L94.8,368.5 L94.4,369.7 L94.0,370.9 L93.6,372.1 L93.2,373.3 L92.8,374.5 L92.4,375.7 L92.0,376.9 L91.6,378.1 L91.2,379.3 L90.8,380.5 L90.4,381.7 L90.0,382.9 L89.6,384.1 L89.3,385.4 L88.9,386.6 L88.5,387.8 L88.1,389.0 L87.7,390.2 L87.3,391.4 L86.9,392.6 L86.5,393.8 L86.2,395.0 L85.8,396.3 L85.4,397.5 L85.0,398.7 L84.6,399.9 L84.3,401.1 L83.9,402.3 L83.5,403.5 L83.1,404.7 L82.8,406.0 L82.4,407.2 L82.0,408.4 L81.7,409.6 L81.3,410.8 L80.9,412.0 L80.6,413.3 L80.2,414.5 L79.8,415.7 L79.5,416.9 L79.1,418.1 L78.7,419.3 L78.4,420.6 L78.0,421.8 L77.6,423.0 L77.3,424.2 L76.9,425.4 L76.6,426.6 L76.2,427.9 L75.9,429.1 L75.5,430.3 L75.1,431.5 L74.8,432.7 L74.4,433.9 L74.1,435.2 L73.7,436.4 L73.4,437.6 L73.0,438.8 L72.7,440.0 L72.3,441.3 L72.0,442.5 L71.6,443.7 L71.3,444.9 L70.9,446.1 L70.6,447.3 L70.2,448.6 L69.9,449.8 L69.5,451.0 L69.2,452.2 L68.8,453.4 L68.5,454.6 L68.2,455.9 L67.8,457.1 L67.5,458.3 L67.1,459.5 L66.8,460.7 L66.4,461.9" stroke="#131350" stroke-width="1.8" fill="none" stroke-linejoin="round"/>
<path d="M298.4,43.3 L297.0,43.3 L295.7,43.3 L294.4,43.4 L293.2,43.6 L291.9,43.8 L290.7,44.1 L289.5,44.4 L288.4,44.8 L287.3,45.2 L286.1,45.7 L285.1,46.2 L284.0,46.7 L283.0,47.3 L281.9,47.9 L280.9,48.5 L279.9,49.2 L279.0,49.9 L278.0,50.6 L277.1,51.4 L276.1,52.1 L275.2,52.9 L274.3,53.7 L273.4,54.5 L272.5,55.3 L271.5,56.1 L270.6,57.0 L269.8,57.8 L268.9,58.6 L268.0,59.5 L267.1,60.3 L266.2,61.2 L265.3,62.0 L264.4,62.9 L263.5,63.7 L262.6,64.6 L261.8,65.4 L260.9,66.3 L260.0,67.2 L259.1,68.0 L258.3,68.9 L257.4,69.8 L256.5,70.6 L255.7,71.5 L254.8,72.4 L253.9,73.3 L253.1,74.2 L252.2,75.1 L251.4,76.0 L250.5,76.8 L249.7,77.7 L248.8,78.6 L248.0,79.5 L247.2,80.4 L246.3,81.4 L245.5,82.3 L244.7,83.2 L243.8,84.1 L243.0,85.0 L242.2,85.9 L241.4,86.8 L240.5,87.8 L239.7,88.7 L238.9,89.6 L238.1,90.6 L237.3,91.5 L236.5,92.4 L235.7,93.4 L234.9,94.3 L234.1,95.3 L233.3,96.2 L232.5,97.1 L231.8,98.1 L231.0,99.1 L230.2,100.0 L229.4,101.0 L228.7,101.9 L227.9,102.9 L227.1,103.9 L226.4,104.8 L225.6,105.8 L224.9,106.8 L224.1,107.7 L223.4,108.7 L222.6,109.7 L221.9,110.7 L221.2,111.7 L220.4,112.7 L219.7,113.6 L219.0,114.6 L218.3,115.6 L217.5,116.6 L216.8,117.6 L216.1,118.6 L215.4,119.6 L214.7,120.6 L214.0,121.6 L213.3,122.6 L212.6,123.6 L211.9,124.7 L211.2,125.7 L210.5,126.7 L209.8,127.7 L209.2,128.7 L208.5,129.7 L207.8,130.8 L207.1,131.8 L206.5,132.8 L205.8,133.8 L205.1,134.9 L204.5,135.9 L203.8,136.9 L203.1,138.0 L202.5,139.0 L201.8,140.0 L201.2,141.1 L200.5,142.1 L199.9,143.2 L199.2,144.2 L198.6,145.3 L198.0,146.3 L197.3,147.4 L196.7,148.4 L196.1,149.5 L195.4,150.5 L194.8,151.6 L194.2,152.6 L193.6,153.7 L193.0,154.7 L192.3,155.8 L191.7,156.9 L191.1,157.9 L190.5,159.0 L189.9,160.1 L189.3,161.1 L188.7,162.2 L188.1,163.3 L187.5,164.3 L186.9,165.4 L186.3,166.5 L185.7,167.6 L185.1,168.6 L184.5,169.7 L183.9,170.8 L183.3,171.9 L182.8,173.0 L182.2,174.0 L181.6,175.1 L181.0,176.2 L180.5,177.3 L179.9,178.4 L179.3,179.5 L178.7,180.6 L178.2,181.6 L177.6,182.7 L177.0,183.8 L176.5,184.9 L175.9,186.0 L175.3,187.1 L174.8,188.2 L174.2,189.3 L173.7,190.4 L173.1,191.5 L172.6,192.6 L172.0,193.7 L171.4,194.8 L170.9,195.9 L170.3,197.0 L169.8,198.1 L169.2,199.1 L168.6,200.2 L168.1,201.3 L167.5,202.4 L167.0,203.5 L166.4,204.6 L165.8,205.7 L165.3,206.8 L164.7,207.9 L164.1,209.0 L163.5,210.0 L163.0,211.1 L162.4,212.2 L161.8,213.3 L161.2,214.4 L160.6,215.5 L160.1,216.5 L159.5,217.6 L158.9,218.7 L158.3,219.8 L157.7,220.8 L157.1,221.9 L156.5,223.0 L155.9,224.1 L155.3,225.1 L154.7,226.2 L154.1,227.3 L153.5,228.4 L153.0,229.4 L152.4,230.5 L151.8,231.6 L151.2,232.7 L150.6,233.7 L150.0,234.8 L149.4,235.9 L148.9,237.0 L148.3,238.1 L147.7,239.1 L147.1,240.2 L146.6,241.3 L146.0,242.4 L145.4,243.5 L144.9,244.6 L144.3,245.7 L143.8,246.8 L143.2,247.9 L142.7,249.0 L142.1,250.1 L141.6,251.2 L141.0,252.3 L140.5,253.4 L140.0,254.5 L139.4,255.6 L138.9,256.7 L138.4,257.8 L137.9,258.9 L137.3,260.0 L136.8,261.2 L136.3,262.3 L135.8,263.4 L135.3,264.5 L134.8,265.6 L134.3,266.7 L133.8,267.9 L133.3,269.0 L132.8,270.1 L132.3,271.2 L131.8,272.4 L131.3,273.5 L130.8,274.6 L130.3,275.7 L129.8,276.9 L129.3,278.0 L128.8,279.1 L128.3,280.3 L127.8,281.4 L127.4,282.5 L126.9,283.7 L126.4,284.8 L125.9,285.9 L125.4,287.1 L125.0,288.2 L124.5,289.3 L124.0,290.5 L123.6,291.6 L123.1,292.8 L122.6,293.9 L122.2,295.0 L121.7,296.2 L121.2,297.3 L120.8,298.5 L120.3,299.6 L119.8,300.8 L119.4,301.9 L118.9,303.0 L118.5,304.2 L118.0,305.3 L117.6,306.5 L117.1,307.6 L116.6,308.8 L116.2,309.9 L115.7,311.1 L115.3,312.2 L114.8,313.4 L114.4,314.5 L113.9,315.7 L113.5,316.8 L113.0,318.0 L112.6,319.1 L112.1,320.2 L111.7,321.4 L111.2,322.5 L110.8,323.7 L110.3,324.8 L109.9,326.0 L109.5,327.1 L109.0,328.3 L108.6,329.4 L108.1,330.6 L107.7,331.7 L107.3,332.9 L106.8,334.0 L106.4,335.2 L105.9,336.4 L105.5,337.5 L105.1,338.7 L104.6,339.8 L104.2,341.0 L103.8,342.1 L103.3,343.3 L102.9,344.4 L102.5,345.6 L102.1,346.7 L101.6,347.9 L101.2,349.0 L100.8,350.2 L100.4,351.4 L99.9,352.5 L99.5,353.7 L99.1,354.8 L98.7,356.0 L98.2,357.1 L97.8,358.3 L97.4,359.5 L97.0,360.6 L96.6,361.8 L96.2,362.9 L95.8,364.1 L95.3,365.3 L94.9,366.4 L94.5,367.6 L94.1,368.7 L93.7,369.9 L93.3,371.1 L92.9,372.2 L92.5,373.4 L92.1,374.6 L91.7,375.7 L91.3,376.9 L90.9,378.1 L90.5,379.2 L90.1,380.4 L89.7,381.6 L89.3,382.7 L88.9,383.9 L88.5,385.1 L88.2,386.2 L87.8,387.4 L87.4,388.6 L87.0,389.7 L86.6,390.9 L86.2,392.1 L85.8,393.2 L85.5,394.4 L85.1,395.6 L84.7,396.8 L84.3,397.9 L84.0,399.1 L83.6,400.3 L83.2,401.4 L82.8,402.6 L82.5,403.8 L82.1,405.0 L81.7,406.1 L81.4,407.3 L81.0,408.5 L80.7,409.7 L80.3,410.9 L79.9,412.0 L79.6,413.2 L79.2,414.4 L78.9,415.6 L78.5,416.8 L78.2,417.9 L77.8,419.1 L77.5,420.3 L77.1,421.5 L76.8,422.7 L76.5,423.8 L76.1,425.0 L75.8,426.2 L75.4,427.4 L75.1,428.6 L74.8,429.8 L74.4,431.0 L74.1,432.1 L73.8,433.3 L73.5,434.5 L73.1,435.7 L72.8,436.9 L72.5,438.1 L72.2,439.3 L71.9,440.5 L71.5,441.7 L71.2,442.9 L70.9,444.0 L70.6,445.2 L70.3,446.4 L70.0,447.6 L69.7,448.8 L69.4,450.0 L69.1,451.2 L68.8,452.4 L68.5,453.6 L68.2,454.8 L67.9,456.0 L67.6,457.2 L67.3,458.4 L67.0,459.6 L66.8,460.8 L66.5,462.0" stroke="#2828a0" stroke-width="1.8" fill="none" stroke-linejoin="round"/>
<path d="M138.4,258.0 L138.2,258.5 L138.0,259.0 L137.8,259.5 L137.6,260.0 L137.3,260.5 L137.1,261.0 L136.9,261.4 L136.7,261.9 L136.5,262.4 L136.2,262.9 L136.0,263.4 L135.8,263.9 L135.6,264.4 L135.4,264.9 L135.2,265.4 L134.9,265.9 L134.7,266.4 L134.5,266.9 L134.3,267.4 L134.1,267.9 L133.9,268.4 L133.6,268.9 L133.4,269.4 L133.2,269.9 L133.0,270.4 L132.8,270.9 L132.6,271.4 L132.3,271.9 L132.1,272.4 L131.9,272.9 L131.7,273.4 L131.5,273.9 L131.3,274.4 L131.1,274.9 L130.8,275.4 L130.6,275.9 L130.4,276.4 L130.2,276.9 L130.0,277.4 L129.8,277.9 L129.6,278.4 L129.3,278.9 L129.1,279.4 L128.9,279.9 L128.7,280.4 L128.5,280.9 L128.3,281.4 L128.1,281.9 L127.9,282.4 L127.6,282.9 L127.4,283.4 L127.2,283.9 L127.0,284.4 L126.8,284.9 L126.6,285.4 L126.4,285.9 L126.2,286.4 L126.0,286.9 L125.7,287.4 L125.5,287.9 L125.3,288.4 L125.1,288.9 L124.9,289.4 L124.7,289.9 L124.5,290.4 L124.3,290.9 L124.1,291.4 L123.9,291.9 L123.6,292.4 L123.4,292.9 L123.2,293.4 L123.0,293.9 L122.8,294.4 L122.6,294.9 L122.4,295.4 L122.2,295.9 L122.0,296.4 L121.8,296.9 L121.6,297.4 L121.4,297.9 L121.2,298.4 L121.0,298.9 L120.7,299.4 L120.5,299.9 L120.3,300.4 L120.1,300.9 L119.9,301.4 L119.7,301.9 L119.5,302.4 L119.3,302.9 L119.1,303.4 L118.9,303.9 L118.7,304.4 L118.5,304.9 L118.3,305.4 L118.1,305.9 L117.9,306.4 L117.7,307.0 L117.5,307.5 L117.3,308.0 L117.1,308.5 L116.9,309.0 L116.7,309.5 L116.5,310.0 L116.3,310.5 L116.1,311.0 L115.9,311.5 L115.7,312.0 L115.4,312.5 L115.2,313.0 L115.0,313.5 L114.8,314.0 L114.6,314.5 L114.4,315.0 L114.2,315.5 L114.0,316.0 L113.8,316.5 L113.6,317.0 L113.4,317.5 L113.2,318.0 L113.0,318.5 L112.8,319.1 L112.6,319.6 L112.5,320.1 L112.3,320.6 L112.1,321.1 L111.9,321.6 L111.7,322.1 L111.5,322.6 L111.3,323.1 L111.1,323.6 L110.9,324.1 L110.7,324.6 L110.5,325.1 L110.3,325.6 L110.1,326.1 L109.9,326.6 L109.7,327.1 L109.5,327.7 L109.3,328.2 L109.1,328.7 L108.9,329.2 L108.7,329.7 L108.5,330.2 L108.3,330.7 L108.1,331.2 L107.9,331.7 L107.7,332.2 L107.6,332.7 L107.4,333.2 L107.2,333.7 L107.0,334.2 L106.8,334.8 L106.6,335.3 L106.4,335.8 L106.2,336.3 L106.0,336.8 L105.8,337.3 L105.6,337.8 L105.4,338.3 L105.2,338.8 L105.1,339.3 L104.9,339.8 L104.7,340.3 L104.5,340.8 L104.3,341.4 L104.1,341.9 L103.9,342.4 L103.7,342.9 L103.5,343.4 L103.3,343.9 L103.2,344.4 L103.0,344.9 L102.8,345.4 L102.6,345.9 L102.4,346.4 L102.2,347.0 L102.0,347.5 L101.8,348.0 L101.7,348.5 L101.5,349.0 L101.3,349.5 L101.1,350.0 L100.9,350.5 L100.7,351.0 L100.5,351.5 L100.3,352.1 L100.2,352.6 L100.0,353.1 L99.8,353.6 L99.6,354.1 L99.4,354.6 L99.2,355.1 L99.1,355.6 L98.9,356.1 L98.7,356.7 L98.5,357.2 L98.3,357.7 L98.1,358.2 L98.0,358.7 L97.8,359.2 L97.6,359.7 L97.4,360.2 L97.2,360.7 L97.0,361.3 L96.9,361.8 L96.7,362.3 L96.5,362.8 L96.3,363.3 L96.1,363.8 L96.0,364.3 L95.8,364.8 L95.6,365.3 L95.4,365.9 L95.2,366.4 L95.1,366.9 L94.9,367.4 L94.7,367.9 L94.5,368.4 L94.3,368.9 L94.2,369.4 L94.0,370.0 L93.8,370.5 L93.6,371.0 L93.5,371.5 L93.3,372.0 L93.1,372.5 L92.9,373.0 L92.8,373.6 L92.6,374.1 L92.4,374.6 L92.2,375.1 L92.0,375.6 L91.9,376.1 L91.7,376.6 L91.5,377.1 L91.4,377.7 L91.2,378.2 L91.0,378.7 L90.8,379.2 L90.7,379.7 L90.5,380.2 L90.3,380.7 L90.1,381.3 L90.0,381.8 L89.8,382.3 L89.6,382.8 L89.4,383.3 L89.3,383.8 L89.1,384.4 L88.9,384.9 L88.8,385.4 L88.6,385.9 L88.4,386.4 L88.3,386.9 L88.1,387.4 L87.9,388.0 L87.7,388.5 L87.6,389.0 L87.4,389.5 L87.2,390.0 L87.1,390.5 L86.9,391.1 L86.7,391.6 L86.6,392.1 L86.4,392.6 L86.2,393.1 L86.1,393.6 L85.9,394.2 L85.7,394.7 L85.6,395.2 L85.4,395.7 L85.2,396.2 L85.1,396.7 L84.9,397.3 L84.7,397.8 L84.6,398.3 L84.4,398.8 L84.2,399.3 L84.1,399.8 L83.9,400.4 L83.8,400.9 L83.6,401.4 L83.4,401.9 L83.3,402.4 L83.1,403.0 L82.9,403.5 L82.8,404.0 L82.6,404.5 L82.5,405.0 L82.3,405.5 L82.1,406.1 L82.0,406.6 L81.8,407.1 L81.7,407.6 L81.5,408.1 L81.3,408.7 L81.2,409.2 L81.0,409.7 L80.9,410.2 L80.7,410.7 L80.5,411.2 L80.4,411.8 L80.2,412.3 L80.1,412.8 L79.9,413.3 L79.8,413.8 L79.6,414.4 L79.4,414.9 L79.3,415.4 L79.1,415.9 L79.0,416.4 L78.8,417.0 L78.7,417.5 L78.5,418.0 L78.4,418.5 L78.2,419.0 L78.0,419.6 L77.9,420.1 L77.7,420.6 L77.6,421.1 L77.4,421.7 L77.3,422.2 L77.1,422.7 L77.0,423.2 L76.8,423.7 L76.7,424.3 L76.5,424.8 L76.4,425.3 L76.2,425.8 L76.1,426.3 L75.9,426.9 L75.8,427.4 L75.6,427.9 L75.5,428.4 L75.3,429.0 L75.2,429.5 L75.0,430.0 L74.9,430.5 L74.7,431.0 L74.6,431.6 L74.4,432.1 L74.3,432.6 L74.1,433.1 L74.0,433.7 L73.8,434.2 L73.7,434.7 L73.5,435.2 L73.4,435.7 L73.3,436.3 L73.1,436.8 L73.0,437.3 L72.8,437.8 L72.7,438.4 L72.5,438.9 L72.4,439.4 L72.2,439.9 L72.1,440.5 L72.0,441.0 L71.8,441.5 L71.7,442.0 L71.5,442.6 L71.4,443.1 L71.3,443.6 L71.1,444.1 L71.0,444.6 L70.8,445.2 L70.7,445.7 L70.5,446.2 L70.4,446.7 L70.3,447.3 L70.1,447.8 L70.0,448.3 L69.9,448.8 L69.7,449.4 L69.6,449.9 L69.4,450.4 L69.3,450.9 L69.2,451.5 L69.0,452.0 L68.9,452.5 L68.8,453.0 L68.6,453.6 L68.5,454.1 L68.3,454.6 L68.2,455.2 L68.1,455.7 L67.9,456.2 L67.8,456.7 L67.7,457.3 L67.5,457.8 L67.4,458.3 L67.3,458.8 L67.1,459.4 L67.0,459.9 L66.9,460.4 L66.7,460.9 L66.6,461.5 L66.5,462.0" stroke="#6a2ccc" stroke-width="3.2" fill="none" stroke-linecap="round"/>
<path d="M116.3,310.0 L116.2,310.4 L116.1,310.8 L115.9,311.1 L115.8,311.5 L115.6,311.9 L115.5,312.3 L115.3,312.6 L115.2,313.0 L115.0,313.4 L114.9,313.8 L114.7,314.1 L114.6,314.5 L114.4,314.9 L114.3,315.2 L114.1,315.6 L114.0,316.0 L113.8,316.4 L113.7,316.7 L113.6,317.1 L113.4,317.5 L113.3,317.9 L113.1,318.2 L113.0,318.6 L112.8,319.0 L112.7,319.4 L112.5,319.7 L112.4,320.1 L112.2,320.5 L112.1,320.8 L112.0,321.2 L111.8,321.6 L111.7,322.0 L111.5,322.3 L111.4,322.7 L111.2,323.1 L111.1,323.5 L110.9,323.8 L110.8,324.2 L110.7,324.6 L110.5,325.0 L110.4,325.3 L110.2,325.7 L110.1,326.1 L109.9,326.5 L109.8,326.8 L109.6,327.2 L109.5,327.6 L109.4,328.0 L109.2,328.3 L109.1,328.7 L108.9,329.1 L108.8,329.5 L108.6,329.8 L108.5,330.2 L108.4,330.6 L108.2,331.0 L108.1,331.3 L107.9,331.7 L107.8,332.1 L107.6,332.5 L107.5,332.8 L107.4,333.2 L107.2,333.6 L107.1,334.0 L106.9,334.3 L106.8,334.7 L106.7,335.1 L106.5,335.5 L106.4,335.8 L106.2,336.2 L106.1,336.6 L105.9,337.0 L105.8,337.3 L105.7,337.7 L105.5,338.1 L105.4,338.5 L105.2,338.8 L105.1,339.2 L105.0,339.6 L104.8,340.0 L104.7,340.3 L104.5,340.7 L104.4,341.1 L104.3,341.5 L104.1,341.8 L104.0,342.2 L103.8,342.6 L103.7,343.0 L103.6,343.4 L103.4,343.7 L103.3,344.1 L103.1,344.5 L103.0,344.9 L102.9,345.2 L102.7,345.6 L102.6,346.0 L102.5,346.4 L102.3,346.7 L102.2,347.1 L102.0,347.5 L101.9,347.9 L101.8,348.2 L101.6,348.6 L101.5,349.0 L101.3,349.4 L101.2,349.8 L101.1,350.1 L100.9,350.5 L100.8,350.9 L100.7,351.3 L100.5,351.6 L100.4,352.0 L100.3,352.4 L100.1,352.8 L100.0,353.1 L99.8,353.5 L99.7,353.9 L99.6,354.3 L99.4,354.7 L99.3,355.0 L99.2,355.4 L99.0,355.8 L98.9,356.2 L98.8,356.5 L98.6,356.9 L98.5,357.3 L98.3,357.7 L98.2,358.1 L98.1,358.4 L97.9,358.8 L97.8,359.2 L97.7,359.6 L97.5,359.9 L97.4,360.3 L97.3,360.7 L97.1,361.1 L97.0,361.5 L96.9,361.8 L96.7,362.2 L96.6,362.6 L96.5,363.0 L96.3,363.3 L96.2,363.7 L96.1,364.1 L95.9,364.5 L95.8,364.9 L95.7,365.2 L95.5,365.6 L95.4,366.0 L95.3,366.4 L95.1,366.8 L95.0,367.1 L94.9,367.5 L94.7,367.9 L94.6,368.3 L94.5,368.6 L94.3,369.0 L94.2,369.4 L94.1,369.8 L93.9,370.2 L93.8,370.5 L93.7,370.9 L93.6,371.3 L93.4,371.7 L93.3,372.1 L93.2,372.4 L93.0,372.8 L92.9,373.2 L92.8,373.6 L92.6,374.0 L92.5,374.3 L92.4,374.7 L92.2,375.1 L92.1,375.5 L92.0,375.9 L91.9,376.2 L91.7,376.6 L91.6,377.0 L91.5,377.4 L91.3,377.8 L91.2,378.1 L91.1,378.5 L91.0,378.9 L90.8,379.3 L90.7,379.7 L90.6,380.0 L90.4,380.4 L90.3,380.8 L90.2,381.2 L90.1,381.6 L89.9,381.9 L89.8,382.3 L89.7,382.7 L89.5,383.1 L89.4,383.5 L89.3,383.8 L89.2,384.2 L89.0,384.6 L88.9,385.0 L88.8,385.4 L88.7,385.7 L88.5,386.1 L88.4,386.5 L88.3,386.9 L88.2,387.3 L88.0,387.6 L87.9,388.0 L87.8,388.4 L87.7,388.8 L87.5,389.2 L87.4,389.5 L87.3,389.9 L87.2,390.3 L87.0,390.7 L86.9,391.1 L86.8,391.5 L86.7,391.8 L86.5,392.2 L86.4,392.6 L86.3,393.0 L86.2,393.4 L86.0,393.7 L85.9,394.1 L85.8,394.5 L85.7,394.9 L85.5,395.3 L85.4,395.7 L85.3,396.0 L85.2,396.4 L85.1,396.8 L84.9,397.2 L84.8,397.6 L84.7,397.9 L84.6,398.3 L84.4,398.7 L84.3,399.1 L84.2,399.5 L84.1,399.9 L84.0,400.2 L83.8,400.6 L83.7,401.0 L83.6,401.4 L83.5,401.8 L83.4,402.2 L83.2,402.5 L83.1,402.9 L83.0,403.3 L82.9,403.7 L82.8,404.1 L82.6,404.4 L82.5,404.8 L82.4,405.2 L82.3,405.6 L82.2,406.0 L82.0,406.4 L81.9,406.7 L81.8,407.1 L81.7,407.5 L81.6,407.9 L81.4,408.3 L81.3,408.7 L81.2,409.0 L81.1,409.4 L81.0,409.8 L80.9,410.2 L80.7,410.6 L80.6,411.0 L80.5,411.3 L80.4,411.7 L80.3,412.1 L80.1,412.5 L80.0,412.9 L79.9,413.3 L79.8,413.7 L79.7,414.0 L79.6,414.4 L79.5,414.8 L79.3,415.2 L79.2,415.6 L79.1,416.0 L79.0,416.3 L78.9,416.7 L78.8,417.1 L78.6,417.5 L78.5,417.9 L78.4,418.3 L78.3,418.6 L78.2,419.0 L78.1,419.4 L78.0,419.8 L77.8,420.2 L77.7,420.6 L77.6,421.0 L77.5,421.3 L77.4,421.7 L77.3,422.1 L77.2,422.5 L77.1,422.9 L76.9,423.3 L76.8,423.6 L76.7,424.0 L76.6,424.4 L76.5,424.8 L76.4,425.2 L76.3,425.6 L76.2,426.0 L76.0,426.3 L75.9,426.7 L75.8,427.1 L75.7,427.5 L75.6,427.9 L75.5,428.3 L75.4,428.7 L75.3,429.0 L75.2,429.4 L75.1,429.8 L74.9,430.2 L74.8,430.6 L74.7,431.0 L74.6,431.4 L74.5,431.7 L74.4,432.1 L74.3,432.5 L74.2,432.9 L74.1,433.3 L74.0,433.7 L73.9,434.1 L73.7,434.5 L73.6,434.8 L73.5,435.2 L73.4,435.6 L73.3,436.0 L73.2,436.4 L73.1,436.8 L73.0,437.2 L72.9,437.5 L72.8,437.9 L72.7,438.3 L72.6,438.7 L72.5,439.1 L72.4,439.5 L72.3,439.9 L72.1,440.3 L72.0,440.6 L71.9,441.0 L71.8,441.4 L71.7,441.8 L71.6,442.2 L71.5,442.6 L71.4,443.0 L71.3,443.3 L71.2,443.7 L71.1,444.1 L71.0,444.5 L70.9,444.9 L70.8,445.3 L70.7,445.7 L70.6,446.1 L70.5,446.5 L70.4,446.8 L70.3,447.2 L70.2,447.6 L70.1,448.0 L70.0,448.4 L69.9,448.8 L69.8,449.2 L69.7,449.6 L69.6,449.9 L69.5,450.3 L69.4,450.7 L69.3,451.1 L69.2,451.5 L69.1,451.9 L69.0,452.3 L68.9,452.7 L68.8,453.1 L68.7,453.4 L68.6,453.8 L68.5,454.2 L68.4,454.6 L68.3,455.0 L68.2,455.4 L68.1,455.8 L68.0,456.2 L67.9,456.6 L67.8,456.9 L67.7,457.3 L67.6,457.7 L67.5,458.1 L67.4,458.5 L67.3,458.9 L67.2,459.3 L67.1,459.7 L67.0,460.1 L66.9,460.4 L66.8,460.8 L66.7,461.2 L66.6,461.6 L66.5,462.0" stroke="#6a2ccc" stroke-width="4.2" fill="none" stroke-linecap="round"/>

<g stroke="#000" fill="none" stroke-linecap="square">
<line x1="65.5" y1="9.5" x2="673.5" y2="9.5" stroke-width="2"/>
<line x1="65.5" y1="9.5" x2="65.5" y2="462.4" stroke-width="1.9"/>
<line x1="65.5" y1="462.4" x2="673.5" y2="462.4" stroke-width="1.7"/>
<line x1="673.5" y1="9.5" x2="673.5" y2="462.4" stroke-width="1.7"/>
</g>
<g font-size="19"><text x="65.5" y="486" text-anchor="middle" font-size="19.5">0</text><text x="187.1" y="486" text-anchor="middle" font-size="19.5">4</text><text x="308.7" y="486" text-anchor="middle" font-size="19.5">8</text><text x="430.3" y="486" text-anchor="middle" font-size="19.5">12</text><text x="551.9" y="486" text-anchor="middle" font-size="19.5">16</text><text x="673.5" y="486" text-anchor="middle" font-size="19.5">20</text><text x="56" y="468.5" text-anchor="end" font-size="19">0.0</text><text x="56" y="393.0" text-anchor="end" font-size="19">0.3</text><text x="56" y="317.5" text-anchor="end" font-size="19">0.6</text><text x="56" y="242.0" text-anchor="end" font-size="19">0.9</text><text x="56" y="166.6" text-anchor="end" font-size="19">1.2</text><text x="56" y="91.1" text-anchor="end" font-size="19">1.5</text><text x="56" y="15.6" text-anchor="end" font-size="19">1.8</text></g>
<g font-size="22.5"><text x="328.3" y="515">ε</text><path d="M340.6,517.2 L343.4,514.6 L343.4,525.5" fill="none" stroke="#000" stroke-width="1.5"/><text x="346" y="515" letter-spacing="1.5">(×10</text><text x="392" y="506.4" font-size="16">4</text><text x="399.7" y="515">)</text></g>
<text transform="translate(18.2,240.3) rotate(-90)" text-anchor="middle" font-size="21" textLength="70" lengthAdjust="spacing">σ(MPa)</text>
<line x1="549.8" y1="141.0" x2="599" y2="141.0" stroke="#000000" stroke-width="2.1"/><text x="604.3" y="148.1" font-size="19">Λ<tspan font-size="13" dy="6">1</tspan></text><line x1="549.8" y1="171.8" x2="599" y2="171.8" stroke="#b8403c" stroke-width="2.1"/><text x="604.3" y="178.7" font-size="19">A<tspan font-size="13" dy="6">2</tspan></text><line x1="549.8" y1="203.1" x2="599" y2="203.1" stroke="#1c1a5e" stroke-width="2.1"/><text x="604.3" y="209.6" font-size="19">A<tspan font-size="13" dy="6">3</tspan></text><line x1="549.8" y1="233.8" x2="599" y2="233.8" stroke="#c048c8" stroke-width="2.1"/><text x="604.3" y="240.1" font-size="19">B<tspan font-size="13" dy="6">1</tspan></text><line x1="549.8" y1="264.2" x2="599" y2="264.2" stroke="#2a6e2a" stroke-width="2.1"/><text x="604.3" y="270.6" font-size="19">B<tspan font-size="13" dy="6">2</tspan></text><line x1="549.8" y1="294.7" x2="599" y2="294.7" stroke="#1c1a5e" stroke-width="2.1"/><text x="604.3" y="300.7" font-size="19">B<tspan font-size="13" dy="6">3</tspan></text>
</svg>
</body></html>
